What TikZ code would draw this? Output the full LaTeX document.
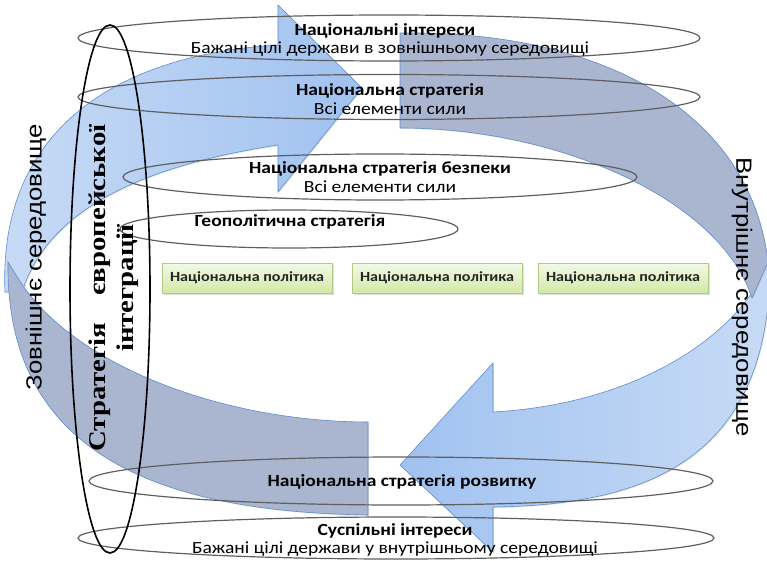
\documentclass[tikz,border=0pt]{standalone}
\usepackage{fontspec}
\setmainfont[FakeStretch=1.15]{Carlito}
\newfontfamily\sidefont[FakeStretch=1.17]{Liberation Sans}
\newfontfamily\vertfont[FakeStretch=1.2]{Liberation Serif}
\usetikzlibrary{shapes.geometric,shadows}

\definecolor{arrlight}{RGB}{200,219,245}
\definecolor{arrdeep}{RGB}{160,194,240}
\definecolor{arrback}{RGB}{170,182,208}
\definecolor{arredge}{RGB}{95,140,205}
\definecolor{ringgray}{RGB}{95,95,95}
\definecolor{boxtop}{RGB}{243,249,230}
\definecolor{boxbot}{RGB}{210,233,168}
\definecolor{boxline}{RGB}{178,202,132}

\begin{document}
\begin{tikzpicture}[x=1pt,y=-1pt,
  ring/.style={draw=ringgray, line width=1.2pt, ellipse, inner sep=0pt},
  head/.style={font=\fontsize{17}{20}\selectfont\bfseries},
  sub/.style={font=\fontsize{17}{20}\selectfont},
  policy/.style={draw=boxline, line width=0.6pt, rectangle, top color=boxtop, bottom color=boxbot,
     minimum width=170, minimum height=30, font=\fontsize{14}{16}\selectfont\bfseries, text=black!85,
     drop shadow={opacity=0.25, shadow xshift=1.5pt, shadow yshift=-1.5pt}},
  band/.style={draw=arredge, line width=0.6pt,
     drop shadow={opacity=0.2, shadow xshift=1pt, shadow yshift=-1pt}}]
\useasboundingbox (0,0) rectangle (767,561);
\clip (0,0) rectangle (767,561);

% left arrow, light part
\path[band, left color=arrlight, right color=arrdeep]
  (5,292) .. controls (-2,135) and (110,55) .. (278,45) -- (278,5) -- (362,88) -- (278,192) -- (278,145)
  .. controls (150,165) and (50,205) .. (22,292) -- cycle;
% right arrow, light part
\path[band, left color=arrdeep, right color=arrlight]
  (770,250) .. controls (775,450) and (660,505) .. (493,507) -- (493,552) -- (400,465) -- (493,363) -- (493,412)
  .. controls (620,405) and (720,350) .. (760,280) -- cycle;
% left arrow, back part
\path[band, fill=arrback]
  (8,262) .. controls (5,460) and (170,512) .. (368,515) -- (368,422)
  .. controls (230,422) and (80,370) .. (21,283) -- cycle;
% right arrow, back part
\path[band, fill=arrback]
  (400,33) .. controls (600,30) and (750,110) .. (768,262) -- (752,298)
  .. controls (720,200) and (560,128) .. (400,128) -- cycle;

% rings
\node[ring, minimum width=622, minimum height=46] (rint) at (389,38) {};
\node[ring, minimum width=622, minimum height=45] (rstr) at (389,97) {};
\node[ring, minimum width=514, minimum height=46] (rsec) at (380,177) {};
\node[ring, minimum width=338, minimum height=38] (rgeo) at (289,229) {};
\node[ring, minimum width=624, minimum height=48] (rdev) at (401,481) {};
\node[ring, minimum width=636, minimum height=42] (rsoc) at (396,538) {};

% texts in rings
\node[head] (tint) at (385,31) {Національні інтереси};
\node[sub] (sint) at (390,49) {Бажані цілі держави в зовнішньому середовищі};
\node[head] (tstr) at (390,91) {Національна стратегія};
\node[sub] (sstr) at (390,109) {Всі елементи сили};
\node[head] (tsec) at (380,169) {Національна стратегія безпеки};
\node[sub] (ssec) at (380,187) {Всі елементи сили};
\node[head] (tgeo) at (290,222) {Геополітична стратегія};
\node[head] (tdev) at (402,482) {Національна стратегія розвитку};
\node[head] (tsoc) at (395,531) {Суспільні інтереси};
\node[sub] (ssoc) at (395,549) {Бажані цілі держави у внутрішньому середовищі};

% policies
\node[policy] (pol1) at (247,278) {Національна політика};
\node[policy] (pol2) at (437,278) {Національна політика};
\node[policy] (pol3) at (623,278) {Національна політика};

% european integration
\node[draw=black, line width=1.6pt, ellipse, inner sep=0pt, minimum width=80, minimum height=528] (reuro) at (110,289) {};
\node[rotate=90, align=center, font=\vertfont\fontsize{24}{28}\selectfont\bfseries] (teuro) at (114,288)
  {\makebox[327pt]{Стратегія\hfill європейської}\\інтеграції};

% environments
\node[rotate=90, font=\sidefont\fontsize{22}{26}\selectfont] (outer) at (36,257) {Зовнішнє середовище};
\node[rotate=-90, font=\sidefont\fontsize{22}{26}\selectfont] (inner) at (742,297) {Внутрішнє середовище};
\end{tikzpicture}
\end{document}
